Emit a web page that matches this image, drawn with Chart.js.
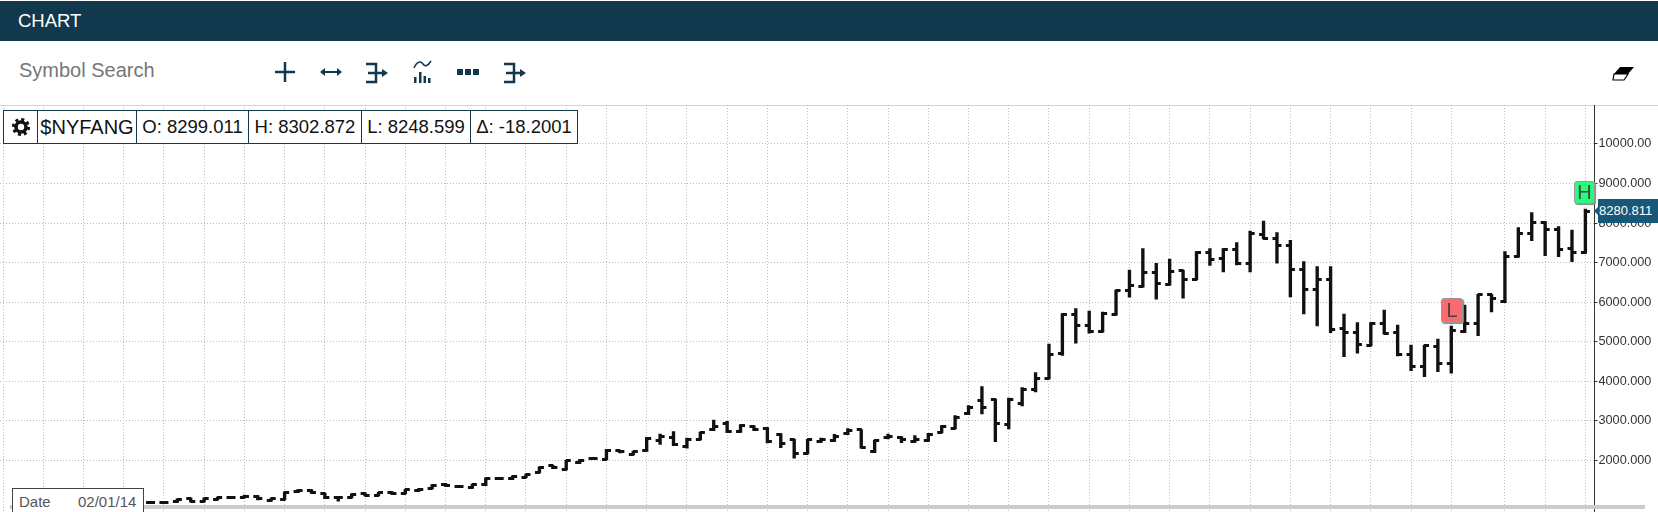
<!DOCTYPE html>
<html>
<head>
<meta charset="utf-8">
<title>Chart</title>
<script src="https://cdn.jsdelivr.net/npm/chart.js@4"></script>
<style>
    html, body { margin: 0; padding: 0; width: 1658px; height: 512px; overflow: hidden; background: #fff; font-family: "Liberation Sans", Arial, sans-serif; }
    .abs { position: absolute; }
    #header { left: 0; top: 1px; width: 1658px; height: 40px; background: #12384e; color: #fff; font-size: 18.5px; line-height: 39px; padding-left: 18px; box-sizing: border-box; }
    #search { left: 19px; top: 58px; font-size: 20px; line-height: 24px; color: #777; }
    #toolbar { left: 0; top: 41px; }
    #topline { left: 0; top: 105px; width: 1658px; height: 1px; background: #d4d4d4; }
    #chartWrap { left: 0; top: 105px; width: 1658px; height: 407px; }
    #info { left: 3px; top: 110px; height: 34px; display: flex; background: #fff; border: 1px solid #12384e; box-sizing: border-box; font-size: 18.5px; color: #111; }
    #info div { border-right: 1px solid #12384e; box-sizing: border-box; text-align: center; line-height: 32px; white-space: nowrap; }
    #info div:last-child { border-right: 0; }
    #scrollbar { left: 10px; top: 505px; width: 1635px; height: 4px; background: #ccc; }
    #dateBox { left: 12px; top: 488px; width: 132px; height: 30px; background: #fff; border: 1px solid #444; box-sizing: border-box; font-size: 15px; color: #555; line-height: 26px; }
    #dateBox span { position: absolute; top: 0; }
    .marker { box-sizing: border-box; border: 1px solid #999; border-radius: 3px; text-align: center; color: #444; box-shadow: 1px 1px 1px #888; font-size: 20px; }
    #hMark { left: 1574px; top: 181px; width: 21px; height: 23px; background: #2bfb7c; line-height: 21px; }
    #lMark { left: 1441px; top: 298px; width: 22px; height: 25px; background: #fb6b6e; line-height: 23px; }
    #priceTag { left: 1598px; top: 199px; width: 60px; height: 24px; background: #17587a; color: #fff; font-size: 13px; line-height: 24px; padding-left: 1px; box-sizing: border-box; }
    #priceArrow { left: 1594px; top: 207px; width: 0; height: 0; border-top: 4px solid transparent; border-bottom: 4px solid transparent; border-right: 4px solid #17587a; }
</style>
</head>
<body>
<div id="header" class="abs">CHART</div>
<div id="search" class="abs">Symbol Search</div>

<svg id="toolbar" class="abs" width="1658" height="60" fill="none" stroke="#12384e" stroke-width="2.5">
    <!-- plus -->
    <path d="M275 31h20M285 21v20" />
    <!-- double arrow -->
    <path d="M322 31h18" stroke-width="2" /><path d="M320 31l5-4v8zM342 31l-5-4v8z" fill="#12384e" stroke="none" />
    <!-- fork -->
    <path d="M366 23h10v18h-10M368 32h15" /><path d="M388 32l-6-4v8z" fill="#12384e" stroke="none" />
    <!-- indicator -->
    <path d="M414 27c3-7 7-7 9-4s5 2 8-3" stroke-width="1.5" />
    <path d="M414 36h2.5v6h-2.5zM419 31h2.5v11h-2.5zM423.5 35h2.5v7h-2.5zM428 37h2.5v5h-2.5z" fill="#12384e" stroke="none" />
    <!-- dots -->
    <path d="M457 28h6v6h-6zM465 28h6v6h-6zM473 28h6v6h-6z" fill="#12384e" stroke="none" />
    <!-- fork -->
    <path d="M504 23h10v18h-10M506 32h15" /><path d="M526 32l-6-4v8z" fill="#12384e" stroke="none" />
    <!-- eraser -->
    <path d="M1620 26h14l-6 7h-14z" fill="#000" stroke="none" />
    <path d="M1614 33h14l-4 6h-11z" fill="#fff" stroke="#000" stroke-width="1.2" />
</svg>

<div id="topline" class="abs"></div>
<div id="chartWrap" class="abs"><canvas id="ohlcChart" width="1658" height="407"></canvas></div>

<div id="info" class="abs">
    <div style="width:34px">
        <svg width="20" height="20" viewBox="0 0 20 20" style="vertical-align:-4px">
            <circle cx="10" cy="10" r="5" fill="none" stroke="#111" stroke-width="3.6" />
            <circle cx="10" cy="10" r="7.6" fill="none" stroke="#111" stroke-width="3" stroke-dasharray="3 2.97" />
        </svg>
    </div>
    <div style="width:99px;font-size:20px">$NYFANG</div>
    <div style="width:112px">O: 8299.011</div>
    <div style="width:113px">H: 8302.872</div>
    <div style="width:109px">L: 8248.599</div>
    <div style="width:106px">Δ: -18.2001</div>
</div>

<div id="scrollbar" class="abs"></div>
<div id="dateBox" class="abs"><span style="left:6px">Date</span><span style="left:65px">02/01/14</span></div>
<div id="lMark" class="abs marker">L</div>
<div id="hMark" class="abs marker">H</div>
<div id="priceArrow" class="abs"></div>
<div id="priceTag" class="abs">8280.811</div>

<script>
// monthly bars. first drawn bar sits at slot 11 of the axis
const firstBar = 11;
const opens = [
    930, 930, 947, 1030, 964, 1015, 1055, 1065, 1090, 979,
    1015, 1200, 1243, 1157, 1048, 1065, 1157, 1116, 1192, 1167,
    1232, 1293, 1401, 1333, 1308, 1376, 1528, 1528, 1578, 1698,
    1857, 1773, 1933, 2034, 2026, 2236, 2153, 2244, 2507, 2583,
    2345, 2532, 2767, 2937, 2724, 2851, 2800, 2641, 2514, 2178,
    2471, 2497, 2666, 2767, 2211, 2583, 2573, 2464, 2497, 2709,
    2810, 3172, 3501, 3526, 2894, 3425, 3779, 4075, 4689, 5676,
    5397, 5246, 5693, 6283, 6391, 6745, 6452, 6788, 6578, 7261,
    7092, 7337, 6983, 7699, 7615, 7421, 6814, 6308, 6561, 5339,
    5228, 4899, 5466, 5228, 4664, 4368, 4891, 4436, 5253, 5448,
    6181, 6012, 7150, 7724, 8020, 7843, 7345, 7251
];
const highs = [
    955, 950, 1025, 1045, 1050, 1070, 1070, 1123, 1110, 1045,
    1200, 1260, 1260, 1170, 1065, 1150, 1175, 1190, 1210, 1265,
    1285, 1385, 1420, 1350, 1400, 1555, 1545, 1605, 1650, 1835,
    1875, 2000, 2020, 2050, 2275, 2255, 2230, 2580, 2666, 2724,
    2565, 2717, 3020, 2987, 2906, 2870, 2825, 2674, 2532, 2532,
    2565, 2658, 2800, 2775, 2514, 2666, 2598, 2623, 2680, 2880,
    3129, 3382, 3862, 3551, 3577, 3837, 4216, 4942, 5710, 5835,
    5777, 5751, 6308, 6814, 7352, 6983, 7092, 6806, 7276, 7352,
    7352, 7504, 7800, 8053, 7757, 7565, 7024, 6897, 6897, 5701,
    5481, 5481, 5802, 5423, 4917, 4917, 5069, 5397, 5928, 6199,
    6199, 7277, 7884, 8263, 8035, 7909, 7825, 8356
];
const lows = [
    905, 905, 935, 950, 950, 1000, 1040, 1050, 997, 965,
    1000, 1185, 1165, 1030, 964, 1050, 1100, 1100, 1140, 1150,
    1215, 1275, 1340, 1315, 1290, 1360, 1510, 1510, 1560, 1680,
    1790, 1755, 1915, 2015, 2010, 2190, 2135, 2225, 2405, 2370,
    2305, 2515, 2750, 2699, 2705, 2750, 2438, 2317, 2052, 2160,
    2455, 2480, 2650, 2305, 2195, 2540, 2446, 2450, 2480, 2695,
    2795, 3155, 3172, 2471, 2793, 3374, 3728, 4060, 4656, 4960,
    5213, 5238, 5668, 6123, 6376, 6073, 6427, 6098, 6561, 6932,
    6763, 6940, 6763, 7598, 6983, 6131, 5701, 5397, 5228, 4621,
    4707, 4891, 5188, 4639, 4267, 4115, 4242, 4201, 5228, 5152,
    5751, 5987, 7135, 7555, 7175, 7150, 7024, 7230
];
const closes = [
    930, 930, 1010, 964, 1030, 1055, 1055, 1080, 1030, 1030,
    1182, 1243, 1182, 1048, 1048, 1131, 1116, 1174, 1157, 1250,
    1268, 1369, 1358, 1333, 1384, 1536, 1528, 1586, 1630, 1814,
    1806, 1983, 2001, 2034, 2244, 2211, 2211, 2549, 2598, 2388,
    2532, 2699, 2851, 2724, 2876, 2767, 2471, 2431, 2178, 2514,
    2532, 2615, 2750, 2330, 2497, 2598, 2532, 2532, 2649, 2851,
    3089, 3342, 3342, 2937, 3544, 3779, 4075, 4664, 5693, 5397,
    5253, 5718, 6290, 6409, 6755, 6460, 6781, 6578, 7261, 7084,
    7337, 6965, 7742, 7615, 7421, 6814, 6308, 6561, 5309, 5228,
    4917, 5466, 5213, 4664, 4368, 4899, 4454, 5271, 5448, 6181,
    6098, 7150, 7742, 8020, 7825, 7337, 7261, 8280.811
];
const yTicks = [2000, 3000, 4000, 5000, 6000, 7000, 8000, 9000, 10000];
const xGridSlots = [
    0, 3, 6, 9, 12, 15, 18, 21, 24, 27, 30, 33, 36, 39, 42, 45, 48, 51, 54, 57,
    60, 63, 66, 69, 72, 75, 78, 81, 84, 87, 90, 93, 96, 99, 102, 105, 108, 112, 115, 118
];

// open tick points left of the stem, close tick points right
function tickImage(side) {
    const c = document.createElement('canvas');
    c.width = 11;
    c.height = 3;
    const g = c.getContext('2d');
    g.fillStyle = '#111';
    g.fillRect(side === 'left' ? 1 : 5, 0, 5, 3);
    return c;
}

const slotOf = i => firstBar + i;

new Chart(document.getElementById('ohlcChart').getContext('2d'), {
    data: {
        datasets: [
            {
                type: 'bar',
                data: highs.map((h, i) => ({ x: slotOf(i), y: [lows[i], h] })),
                backgroundColor: '#111',
                barThickness: 2.7
            },
            {
                type: 'line',
                data: opens.map((v, i) => ({ x: slotOf(i), y: v })),
                showLine: false,
                pointStyle: tickImage('left')
            },
            {
                type: 'line',
                data: closes.map((v, i) => ({ x: slotOf(i), y: v })),
                showLine: false,
                pointStyle: tickImage('right')
            }
        ]
    },
    options: {
        responsive: false,
        animation: false,
        events: [],
        layout: { padding: 0, autoPadding: false },
        plugins: { legend: { display: false }, tooltip: { enabled: false } },
        scales: {
            x: {
                type: 'linear',
                offset: false,
                min: -0.224,
                max: 118.68,
                afterBuildTicks: axis => { axis.ticks = xGridSlots.map(v => ({ value: v })); },
                afterFit: axis => { axis.height = 0; },
                ticks: { display: false },
                border: { display: false, dash: [1, 2] },
                grid: { offset: false, color: '#bdbdbd', lineWidth: 1, drawTicks: false }
            },
            y: {
                position: 'right',
                min: 693,
                max: 10986,
                afterBuildTicks: axis => { axis.ticks = yTicks.map(v => ({ value: v })); },
                afterFit: axis => {
                    axis.width = 63.5;
                    axis.paddingTop = 0;
                    axis.paddingBottom = 0;
                },
                ticks: {
                    padding: 1,
                    color: '#333',
                    font: { family: '"Liberation Sans", Arial, sans-serif', size: 12.7 },
                    callback: v => v.toPrecision(7)
                },
                border: { display: true, color: '#333', width: 1, dash: [1, 2] },
                grid: { color: '#bdbdbd', lineWidth: 1, tickColor: '#333', tickLength: 3, tickBorderDash: [] }
            }
        }
    }
});
</script>
</body>
</html>
